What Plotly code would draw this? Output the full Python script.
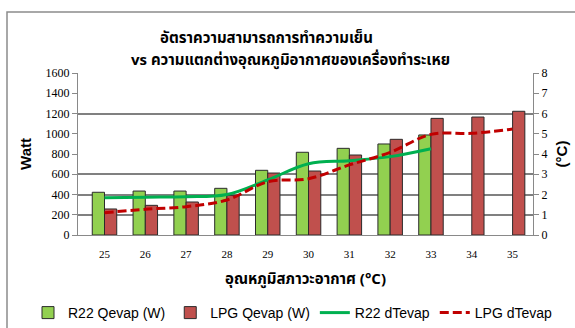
import plotly.graph_objects as go

# Ambient temperature categories (°C)
temps = ["25", "26", "27", "28", "29", "30", "31", "32", "33", "34", "35"]

# Evaporator capacity (W)
r22_qevap = [422, 434, 434, 461, 639, 817, 856, 899, 988, None, None]
lpg_qevap = [257, 293, 326, 392, 612, 632, 790, 945, 1152, 1165, 1222]

# Evaporator temperature difference (°C)
r22_dtevap = [1.84, 1.87, 1.89, 2.0, 2.72, 3.52, 3.67, 3.87, 4.26, None, None]
lpg_dtevap = [1.10, 1.27, 1.40, 1.73, 2.63, 2.78, 3.46, 4.08, 4.97, 5.02, 5.23]

left_ticks = [0, 200, 400, 600, 800, 1000, 1200, 1400, 1600]
right_ticks = [0, 1, 2, 3, 4, 5, 6, 7, 8]
grid_values = [200, 400, 600, 1200]

title_line1 = "<b>อัตราความสามารถการทำความเย็น</b>"
title_line2 = "<b>vs ความแตกต่างอุณหภูมิอากาศของเครื่องทำระเหย</b>"
x_title = "<b>อุณหภูมิสภาวะอากาศ (°C)</b>"

W, H = 575, 328
L, R, T, B = 78, 42, 73, 93
pw, ph = W - L - R, H - T - B


def px_x(p):
    return (p - L) / pw


def px_y(p):
    return (H - B - p) / ph


axis_gray = "#898989"
serif = "Liberation Serif, Times New Roman, serif"
sans = "Liberation Sans, Arial, sans-serif"
thai = "Tahoma, Noto Sans Thai, Loma, DejaVu Sans, sans-serif"

fig = go.Figure()
fig.add_trace(go.Bar(
    x=temps, y=r22_qevap, name="R22 Qevap (W)",
    marker=dict(color="#92D050", line=dict(color="#2b2b2b", width=1)),
))
fig.add_trace(go.Bar(
    x=temps, y=lpg_qevap, name="LPG Qevap (W)",
    marker=dict(color="#C0504D", line=dict(color="#2b2b2b", width=1)),
))
fig.add_trace(go.Scatter(
    x=temps, y=r22_dtevap, name="R22 dTevap", yaxis="y2",
    mode="lines", line=dict(color="#00B050", width=3, shape="spline"),
))
fig.add_trace(go.Scatter(
    x=temps, y=lpg_dtevap, name="LPG dTevap", yaxis="y2",
    mode="lines", line=dict(color="#C00000", width=3, shape="spline", dash="9px,4px"),
))

fig.update_layout(
    width=W, height=H,
    margin=dict(l=L, r=R, t=T, b=B, pad=0, autoexpand=False),
    paper_bgcolor="white", plot_bgcolor="white",
    barmode="group", bargap=0.4, bargroupgap=0,
    showlegend=True,
    legend=dict(
        orientation="h", x=px_x(28), y=px_y(313),
        xanchor="left", yanchor="middle",
        font=dict(family=sans, size=14, color="#000"),
        itemwidth=30, tracegroupgap=0,
    ),
    xaxis=dict(
        type="category", categoryarray=temps,
        showline=True, linecolor=axis_gray, linewidth=1,
        ticks="outside", ticklen=9, tickcolor="rgba(0,0,0,0)",
        tickfont=dict(family=serif, size=11, color="#000"),
        title=dict(text=x_title, font=dict(family=thai, size=15, color="#000"), standoff=14),
        showgrid=False,
    ),
    yaxis=dict(
        range=[0, 1600], tickvals=left_ticks,
        showline=True, linecolor=axis_gray, linewidth=1,
        ticks="outside", ticklen=5, tickcolor=axis_gray,
        tickfont=dict(family=serif, size=12, color="#000"),
        showgrid=False, zeroline=False,
        title=dict(text="<b>Watt</b>", font=dict(family=sans, size=15, color="#000"), standoff=10),
    ),
    yaxis2=dict(
        range=[0, 8], tickvals=right_ticks, overlaying="y", side="right",
        showline=True, linecolor=axis_gray, linewidth=1,
        ticks="outside", ticklen=5, tickcolor=axis_gray,
        tickfont=dict(family=serif, size=12, color="#000"),
        showgrid=False, zeroline=False,
        title=dict(text="<b>(°C)</b>", font=dict(family=sans, size=15, color="#000"), standoff=10),
    ),
    yaxis3=dict(
        range=[0, 1600], tickvals=grid_values, overlaying="y",
        showgrid=True, gridcolor="#808080", gridwidth=1.5,
        showticklabels=False, ticks="", showline=False, zeroline=False,
    ),
)

# Empty trace bound to the grid-only axis so its gridlines are drawn
fig.add_trace(go.Scatter(x=[temps[0]], y=[None], yaxis="y3", showlegend=False, hoverinfo="skip"))

fig.add_annotation(
    text=title_line1, xref="paper", yref="paper",
    x=px_x(266), y=px_y(39), xanchor="center", yanchor="middle",
    showarrow=False, font=dict(family=thai, size=15, color="#000"),
)
fig.add_annotation(
    text=title_line2, xref="paper", yref="paper",
    x=px_x(290), y=px_y(61), xanchor="center", yanchor="middle",
    showarrow=False, font=dict(family=thai, size=15, color="#000"),
)

# Chart frame
fig.add_shape(
    type="rect", xref="paper", yref="paper",
    x0=px_x(7), x1=px_x(582), y0=px_y(335), y1=px_y(12),
    line=dict(color="#8c8c8c", width=1.5), layer="below",
)

fig.write_html("out.html")
